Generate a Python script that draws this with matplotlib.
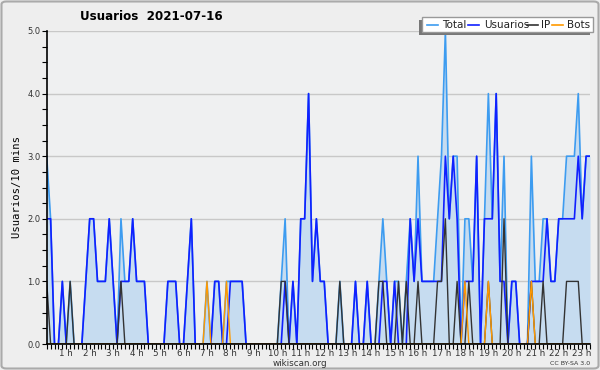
import matplotlib
matplotlib.use('Agg')
from matplotlib import pyplot as plt
from matplotlib.patches import Rectangle, FancyBboxPatch
from matplotlib.lines import Line2D

# values per 10 minutes
total = [3, 2, 0, 0, 1, 0, 1, 0, 0, 0,
         1, 2, 2, 1, 1, 1, 2, 1, 0, 2,
         1, 1, 2, 1, 1, 1, 0, 0, 0, 0,
         0, 1, 1, 1, 0, 0, 1, 2, 0, 0,
         0, 1, 0, 1, 1, 0, 1, 1, 1, 1,
         1, 0, 0, 0, 0, 0, 0, 0, 0, 0,
         1, 2, 0, 1, 0, 2, 2, 4, 1, 2,
         1, 1, 0, 0, 0, 1, 0, 0, 0, 1,
         0, 0, 1, 0, 0, 1, 2, 1, 0, 1,
         1, 0, 1, 2, 1, 3, 1, 1, 1, 1,
         2, 3, 5, 2, 3, 3, 0, 2, 2, 1,
         3, 0, 2, 4, 2, 4, 1, 3, 0, 1,
         1, 0, 0, 0, 3, 1, 1, 2, 2, 1,
         1, 2, 2, 3, 3, 3, 4, 2, 3, 3]
usuarios = [2, 2, 0, 0, 1, 0, 0, 0, 0, 0,
            1, 2, 2, 1, 1, 1, 2, 1, 0, 1,
            1, 1, 2, 1, 1, 1, 0, 0, 0, 0,
            0, 1, 1, 1, 0, 0, 1, 2, 0, 0,
            0, 0, 0, 1, 1, 0, 0, 1, 1, 1,
            1, 0, 0, 0, 0, 0, 0, 0, 0, 0,
            0, 1, 0, 1, 0, 2, 2, 4, 1, 2,
            1, 1, 0, 0, 0, 0, 0, 0, 0, 1,
            0, 0, 1, 0, 0, 0, 1, 1, 0, 1,
            0, 0, 0, 2, 1, 2, 1, 1, 1, 1,
            1, 1, 3, 2, 3, 2, 0, 1, 1, 1,
            3, 0, 2, 2, 2, 4, 1, 1, 0, 1,
            1, 0, 0, 0, 1, 1, 1, 1, 2, 1,
            1, 2, 2, 2, 2, 2, 3, 2, 3, 3]
ip = [1, 0, 0, 0, 0, 0, 1, 0, 0, 0,
      0, 0, 0, 0, 0, 0, 0, 0, 0, 1,
      0, 0, 0, 0, 0, 0, 0, 0, 0, 0,
      0, 0, 0, 0, 0, 0, 0, 0, 0, 0,
      0, 0, 0, 0, 0, 0, 0, 0, 0, 0,
      0, 0, 0, 0, 0, 0, 0, 0, 0, 0,
      1, 1, 0, 0, 0, 0, 0, 0, 0, 0,
      0, 0, 0, 0, 0, 1, 0, 0, 0, 0,
      0, 0, 0, 0, 0, 1, 1, 0, 0, 0,
      1, 0, 1, 0, 0, 1, 0, 0, 0, 0,
      1, 1, 2, 0, 0, 1, 0, 0, 1, 0,
      0, 0, 0, 1, 0, 0, 0, 2, 0, 0,
      0, 0, 0, 0, 1, 0, 0, 1, 0, 0,
      0, 0, 0, 1, 1, 1, 1, 0, 0, 0]
bots = [0, 0, 0, 0, 0, 0, 0, 0, 0, 0,
        0, 0, 0, 0, 0, 0, 0, 0, 0, 0,
        0, 0, 0, 0, 0, 0, 0, 0, 0, 0,
        0, 0, 0, 0, 0, 0, 0, 0, 0, 0,
        0, 1, 0, 0, 0, 0, 1, 0, 0, 0,
        0, 0, 0, 0, 0, 0, 0, 0, 0, 0,
        0, 0, 0, 0, 0, 0, 0, 0, 0, 0,
        0, 0, 0, 0, 0, 0, 0, 0, 0, 0,
        0, 0, 0, 0, 0, 0, 0, 0, 0, 0,
        0, 0, 0, 0, 0, 0, 0, 0, 0, 0,
        0, 0, 0, 0, 0, 0, 0, 1, 0, 0,
        0, 0, 0, 1, 0, 0, 0, 0, 0, 0,
        0, 0, 0, 0, 1, 0, 0, 0, 0, 0,
        0, 0, 0, 0, 0, 0, 0, 0, 0, 0]

hour_labels = [str(h) + " h" for h in range(1, 24)]
series = ["Total", "Usuarios", "IP", "Bots"]
colors = ["#3d9cf0", "#1020ff", "#333333", "#ff9900"]

W, H = 600, 370
fig = plt.figure(figsize=(W / 100, H / 100), dpi=100)
fig.patch.set_facecolor('#eeeeee')

# border of the image
fig.patches.append(FancyBboxPatch((1.5 / W, 1.5 / H), 1 - 3 / W, 1 - 3 / H,
                                  boxstyle="round,pad=0,rounding_size=0.008",
                                  transform=fig.transFigure, fill=False,
                                  edgecolor='#aaaaaa', linewidth=1.5))

ax = fig.add_axes([46.7 / W, 26 / H, (590 - 46.7) / W, (344 - 31) / H])
ax.set_facecolor('#eff0f1')
x = list(range(len(total)))

ax.fill_between(x, total, 0, color='#c6dcf0', linewidth=0)
ax.plot(x, total, color=colors[0], linewidth=1.2)
ax.plot(x, usuarios, color=colors[1], linewidth=1.2)
ax.plot(x, ip, color=colors[2], linewidth=1.0)
ax.plot(x, bots, color=colors[3], linewidth=1.0)

ax.set_xlim(0, len(total) - 1)
ax.set_ylim(0, 5)

ax.set_yticks([0, 1, 2, 3, 4, 5])
ax.set_yticklabels(["%.1f" % v for v in [0, 1, 2, 3, 4, 5]], fontsize=6, color='#333333')
ax.set_yticks([i * 0.25 for i in range(21)], minor=True)
ax.set_xticks([6 * h - 1 for h in range(1, 24)])
ax.set_xticklabels(hour_labels, fontsize=6.3, color='#333333')
ax.set_xticks(x, minor=True)
ax.tick_params(axis='both', which='both', direction='out', length=3.5, width=0.8)
ax.tick_params(axis='x', which='major', pad=0)
ax.tick_params(axis='y', which='major', pad=1)

ax.yaxis.grid(True, which='major', color='#c8c8c8', linewidth=1)
ax.set_axisbelow(True)
for s in ['top', 'right']:
    ax.spines[s].set_visible(False)
for s in ['left', 'bottom']:
    ax.spines[s].set_linewidth(1.2)

ax.set_ylabel("Usuarios/10 mins", fontsize=7.6, family='DejaVu Sans Mono', labelpad=4)

fig.text(151 / W, 1 - 16.5 / H, "Usuarios  2021-07-16", fontsize=8.6, fontweight='bold',
         ha='center', va='center')
fig.text(300 / W, 1 - 363.5 / H, "wikiscan.org", fontsize=6.3, color='#333333',
         ha='center', va='center')
fig.text(590 / W, 1 - 363.5 / H, "CC BY-SA 3.0", fontsize=4.5, color='#333333',
         ha='right', va='center')

# legend box with shadow
lx0, lx1, ly0, ly1 = 421.7, 593.3, 17.3, 32.3
fig.patches.append(Rectangle(((lx0 - 3) / W, 1 - (ly1 + 3) / H),
                             (lx1 - lx0) / W, (ly1 - ly0) / H, transform=fig.transFigure,
                             facecolor='#777777', edgecolor='none'))
fig.patches.append(Rectangle((lx0 / W, 1 - ly1 / H), (lx1 - lx0) / W, (ly1 - ly0) / H,
                             transform=fig.transFigure, facecolor='white',
                             edgecolor='#999999', linewidth=1))
line_x = [426.7, 468, 526.7, 551.7]
text_x = [442, 484, 541, 567]
ly = 24.5
for name, c, lxp, txp in zip(series, colors, line_x, text_x):
    fig.lines.append(Line2D([lxp / W, (lxp + 11) / W], [1 - ly / H, 1 - ly / H],
                            transform=fig.transFigure, color=c, linewidth=1.2))
    fig.text(txp / W, 1 - ly / H, name, fontsize=7.5, ha='left', va='center', color='#222222')

fig.savefig('out.png', dpi=100, facecolor=fig.get_facecolor())
